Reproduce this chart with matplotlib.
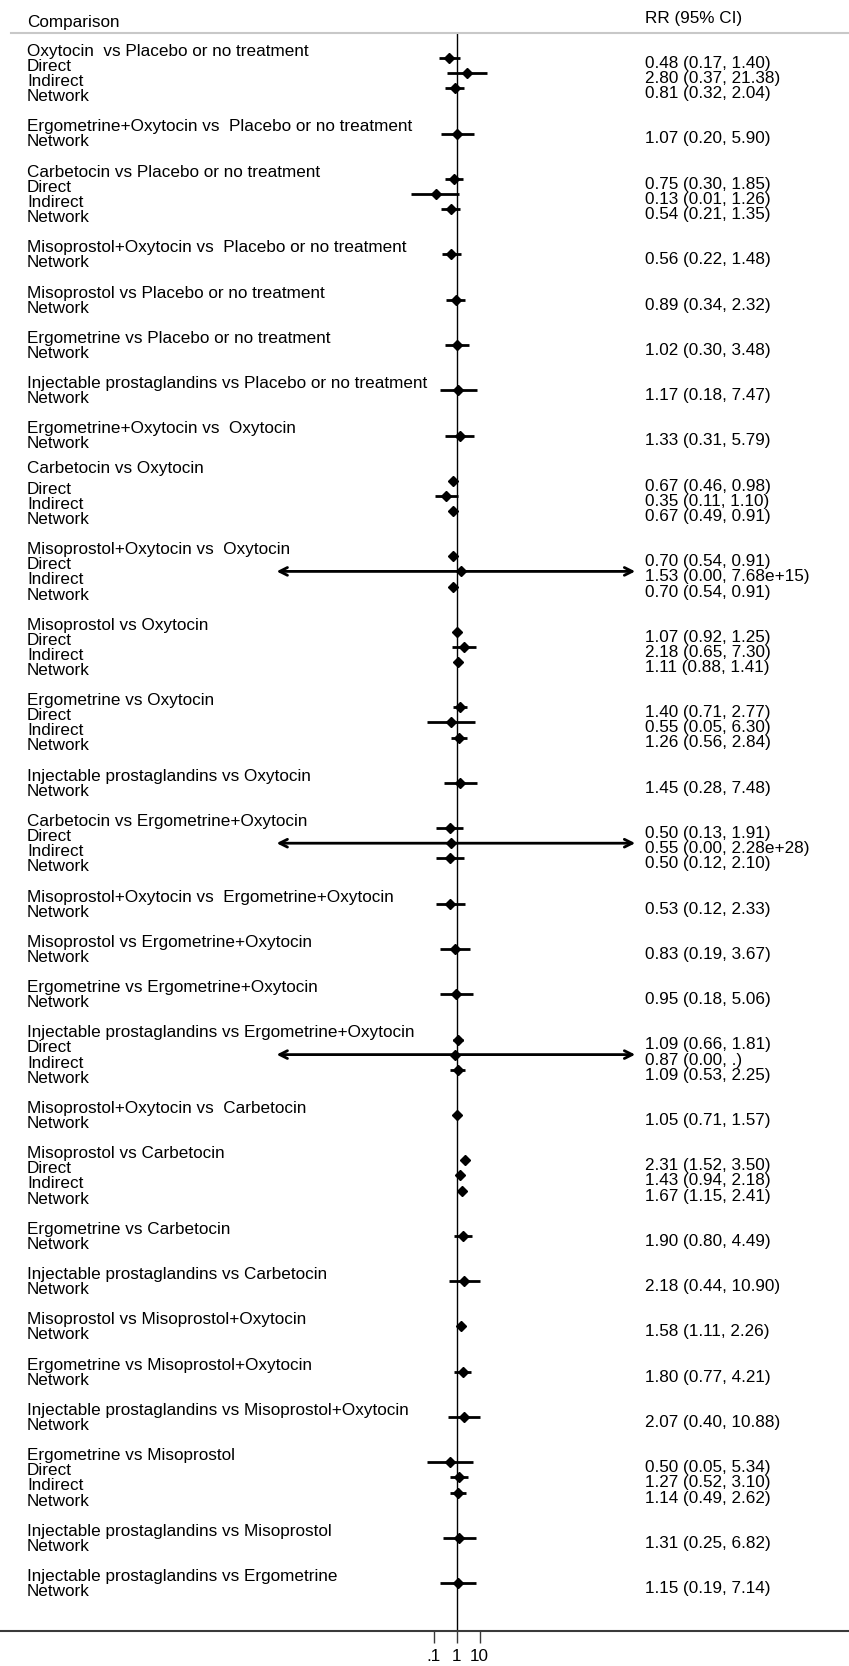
import numpy as np
import matplotlib
matplotlib.use("Agg")
import matplotlib.pyplot as plt

plt.rcParams['font.family'] = ['Liberation Sans', 'DejaVu Sans']

# ---- data -------------------------------------------------------------
comparisons = [
    "Oxytocin  vs Placebo or no treatment",
    "Ergometrine+Oxytocin vs  Placebo or no treatment",
    "Carbetocin vs Placebo or no treatment",
    "Misoprostol+Oxytocin vs  Placebo or no treatment",
    "Misoprostol vs Placebo or no treatment",
    "Ergometrine vs Placebo or no treatment",
    "Injectable prostaglandins vs Placebo or no treatment",
    "Ergometrine+Oxytocin vs  Oxytocin",
    "Carbetocin vs Oxytocin",
    "Misoprostol+Oxytocin vs  Oxytocin",
    "Misoprostol vs Oxytocin",
    "Ergometrine vs Oxytocin",
    "Injectable prostaglandins vs Oxytocin",
    "Carbetocin vs Ergometrine+Oxytocin",
    "Misoprostol+Oxytocin vs  Ergometrine+Oxytocin",
    "Misoprostol vs Ergometrine+Oxytocin",
    "Ergometrine vs Ergometrine+Oxytocin",
    "Injectable prostaglandins vs Ergometrine+Oxytocin",
    "Misoprostol+Oxytocin vs  Carbetocin",
    "Misoprostol vs Carbetocin",
    "Ergometrine vs Carbetocin",
    "Injectable prostaglandins vs Carbetocin",
    "Misoprostol vs Misoprostol+Oxytocin",
    "Ergometrine vs Misoprostol+Oxytocin",
    "Injectable prostaglandins vs Misoprostol+Oxytocin",
    "Ergometrine vs Misoprostol",
    "Injectable prostaglandins vs Misoprostol",
    "Injectable prostaglandins vs Ergometrine",
]

# evidence types present for each comparison
full = ["Direct", "Indirect", "Network"]
net = ["Network"]
evidence = [full, net, full, net, net, net, net, net, full, full, full, full,
            net, full, net, net, net, full, net, full, net, net, net, net,
            net, full, net, net]

# relative risks with 95% CI (nan = not estimable)
rr = [
    [0.48, 2.80, 0.81], [1.07], [0.75, 0.13, 0.54], [0.56], [0.89], [1.02],
    [1.17], [1.33], [0.67, 0.35, 0.67], [0.70, 1.53, 0.70], [1.07, 2.18, 1.11],
    [1.40, 0.55, 1.26], [1.45], [0.50, 0.55, 0.50], [0.53], [0.83], [0.95],
    [1.09, 0.87, 1.09], [1.05], [2.31, 1.43, 1.67], [1.90], [2.18], [1.58],
    [1.80], [2.07], [0.50, 1.27, 1.14], [1.31], [1.15],
]
ci_low = [
    [0.17, 0.37, 0.32], [0.20], [0.30, 0.01, 0.21], [0.22], [0.34], [0.30],
    [0.18], [0.31], [0.46, 0.11, 0.49], [0.54, 0.00, 0.54], [0.92, 0.65, 0.88],
    [0.71, 0.05, 0.56], [0.28], [0.13, 0.00, 0.12], [0.12], [0.19], [0.18],
    [0.66, 0.00, 0.53], [0.71], [1.52, 0.94, 1.15], [0.80], [0.44], [1.11],
    [0.77], [0.40], [0.05, 0.52, 0.49], [0.25], [0.19],
]
ci_high = [
    [1.40, 21.38, 2.04], [5.90], [1.85, 1.26, 1.35], [1.48], [2.32], [3.48],
    [7.47], [5.79], [0.98, 1.10, 0.91], [0.91, 7.68e15, 0.91], [1.25, 7.30, 1.41],
    [2.77, 6.30, 2.84], [7.48], [1.91, 2.28e28, 2.10], [2.33], [3.67], [5.06],
    [1.81, np.nan, 2.25], [1.57], [3.50, 2.18, 2.41], [4.49], [10.90], [2.26],
    [4.21], [10.88], [5.34, 3.10, 2.62], [6.82], [7.14],
]

xtick_values = [0.1, 1, 10]
xtick_labels = [".1", "1", "10"]

# ---- layout -----------------------------------------------------------
W, H = 849, 1666
ROW0, ROW_STEP = 58.0, 15.1       # first row centre and row pitch (px)
GAP_ROWS = 2                      # blank rows between comparisons
AXIS_Y, TOP_Y = 1631, 33
X_ONE, DECADE = 456.7, 22.8       # px position of RR = 1 and px per decade
ARROW_LIM = (10 ** -7.9, 10 ** 7.83)
FS = 12.3
LABEL_X, VALUE_X = 27, 645
TITLE_EXTRA = {8: 6}              # extra lift for some comparison titles


def fmt(v):
    if np.isnan(v):
        return "."
    if v >= 1e4:
        return f"{v:.2e}"
    return f"{v:.2f}"


fig = plt.figure(figsize=(W / 100, H / 100), dpi=100)
ax = fig.add_axes([0, (H - AXIS_Y) / H, 1, (AXIS_Y - TOP_Y) / H])
ax.set_xscale("log")
ax.set_xlim(10 ** (-X_ONE / DECADE), 10 ** ((W - X_ONE) / DECADE))
ax.set_ylim(AXIS_Y, TOP_Y)

for side in ("top", "left", "right"):
    ax.spines[side].set_visible(False)
ax.spines["bottom"].set_color("#3a3a3a")
ax.spines["bottom"].set_linewidth(1.5)
ax.set_yticks([])
ax.set_xticks(xtick_values)
ax.set_xticklabels(xtick_labels, fontsize=FS)
ax.xaxis.set_minor_locator(matplotlib.ticker.NullLocator())
ax.tick_params(axis="x", length=8.6, width=1.0, color="#3a3a3a", pad=4.5)

ytr = ax.get_yaxis_transform()

# reference line at RR = 1
ax.axvline(1, color="black", lw=1.0, zorder=1)

# header
ax.text(LABEL_X / W, 22, "Comparison", transform=ytr, fontsize=FS,
        va="center", ha="left")
ax.text(VALUE_X / W, 18, "RR (95% CI)", transform=ytr, fontsize=FS,
        va="center", ha="left")
ax.plot([11 / W, 1], [TOP_Y, TOP_Y], transform=ytr, color="#c8c8c8",
        lw=1.5, clip_on=False)

row = 0
for gi, title in enumerate(comparisons):
    kinds = evidence[gi]
    ys = [ROW0 + ROW_STEP * (row + k) for k in range(len(kinds))]
    # label block
    ax.text(LABEL_X / W, ys[0] + 8.5 - 15 - TITLE_EXTRA.get(gi, 0), title,
            transform=ytr, fontsize=FS, va="center", ha="left")
    for k, kind in enumerate(kinds):
        y = ys[k]
        est, lo, hi = rr[gi][k], ci_low[gi][k], ci_high[gi][k]
        ax.text(LABEL_X / W, y + 8.5, kind, transform=ytr, fontsize=FS,
                va="center", ha="left")
        ax.text(VALUE_X / W, y + 5.5, f"{fmt(est)} ({fmt(lo)}, {fmt(hi)})",
                transform=ytr, fontsize=FS, va="center", ha="left")
        left_out = lo <= ARROW_LIM[0]
        right_out = np.isnan(hi) or hi >= ARROW_LIM[1]
        lo_c = ARROW_LIM[0] if left_out else lo
        hi_c = ARROW_LIM[1] if right_out else hi
        if left_out or right_out:
            style = "<->" if (left_out and right_out) else ("->" if right_out else "<-")
            ax.annotate("", xy=(hi_c, y), xytext=(lo_c, y),
                        arrowprops=dict(arrowstyle=style, lw=2.0, color="black",
                                        shrinkA=0, shrinkB=0,
                                        mutation_scale=14))
        else:
            ax.plot([lo_c, hi_c], [y, y], color="black", lw=2.0,
                    solid_capstyle="butt", zorder=2)
        ax.plot(est, y, marker="D", ms=5, color="black", zorder=3)
    row += len(kinds) + GAP_ROWS

fig.savefig("out.png", dpi=100, facecolor="white")
